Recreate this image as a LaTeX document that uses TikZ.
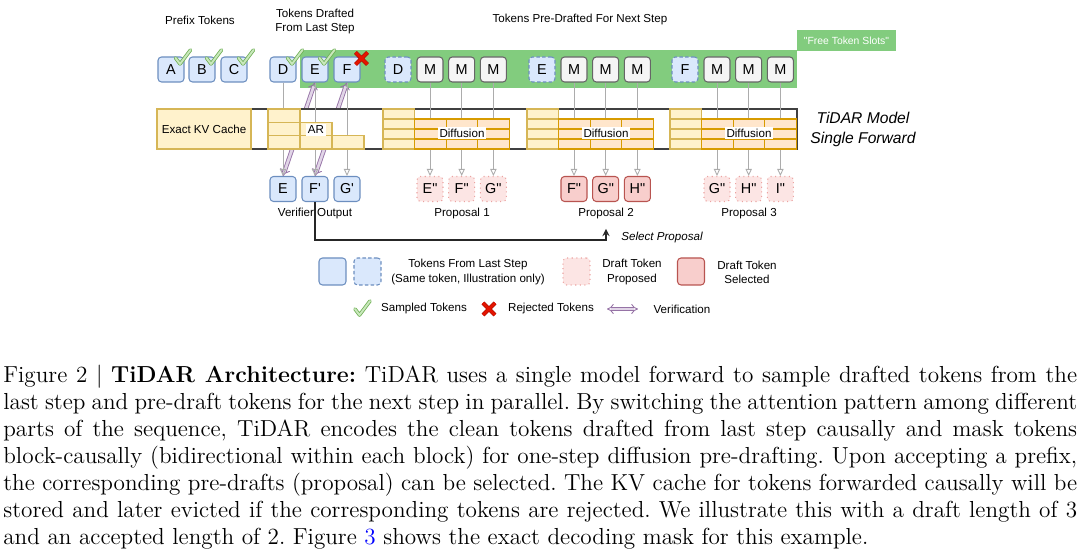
\documentclass[tikz,border=0pt]{standalone}
\usepackage{fontspec}
\usetikzlibrary{arrows, arrows.meta, positioning}
\newfontfamily\diafont{Liberation Sans}[Ligatures=TeXOff]
\definecolor{tokfill}{HTML}{DAE8FC}
\definecolor{tokline}{HTML}{6C8EBF}
\definecolor{maskfill}{HTML}{F5F5F5}
\definecolor{maskline}{HTML}{666666}
\definecolor{slotgreen}{HTML}{82CC7E}
\definecolor{kvfill}{HTML}{FFF2CC}
\definecolor{kvline}{HTML}{D6B656}
\definecolor{difffill}{HTML}{FFE6CC}
\definecolor{diffline}{HTML}{D79B00}
\definecolor{propfill}{HTML}{FCE5E4}
\definecolor{propline}{HTML}{EBA3A1}
\definecolor{selfill}{HTML}{F8CECC}
\definecolor{selline}{HTML}{B85450}
\definecolor{verline}{HTML}{9673A6}
\definecolor{verfill}{HTML}{E1D5E7}
\definecolor{chkline}{HTML}{6FAF55}
\definecolor{chkfill}{HTML}{C9E8BC}
\definecolor{rejred}{HTML}{E51400}
\tikzset{>=stealth}

\begin{document}
\begin{tikzpicture}[x=0.02cm, y=-0.02cm,
  lbl/.style={font=\diafont\fontsize{6.6}{8}\selectfont, align=center, inner sep=0pt},
  tok/.style={draw=tokline, fill=tokfill, line width=0.6pt, rounded corners=2pt, minimum width=0.52cm, minimum height=0.5cm, inner sep=0pt, font=\diafont\fontsize{8.2}{9}\selectfont},
  tokdash/.style={tok, dash pattern=on 2pt off 1.3pt},
  masktok/.style={tok, draw=maskline, fill=maskfill},
  proptok/.style={tok, draw=propline, fill=propfill, dotted},
  seltok/.style={tok, draw=selline, fill=selfill},
  kvcell/.style={draw=kvline, fill=kvfill, line width=0.6pt},
  diffcell/.style={draw=diffline, fill=difffill, line width=0.6pt},
  feed/.style={draw=gray!65, line width=0.5pt, -{Triangle[open, length=4pt, width=3.6pt]}},
  verify/.style={draw=verline, double=verfill, double distance=1.5pt, line width=0.5pt, {Implies}-{Implies}},
  chk/.pic={\draw[chkline, double=chkfill, double distance=1.1pt, line width=0.45pt, line join=round, line cap=round] (-7,0) -- (-2.5,6) -- (8,-8);},
  rej/.pic={\draw[rejred!75!black, double=rejred, double distance=1.6pt, line width=0.35pt] (-6,-6) -- (6,6) (-6,6) -- (6,-6);}
]
\useasboundingbox (0,0) rectangle (1080,553);

\fill[slotgreen] (300,50) rectangle (797,88);
\node[fill=slotgreen, text=white, minimum width=1.98cm, minimum height=0.42cm, inner sep=0pt, font=\diafont\fontsize{5.9}{7}\selectfont] (slots) at (846.5,40.5) {"Free Token Slots"};

\node[lbl] (hPre) at (200,20) {Prefix Tokens};
\node[lbl, font=\diafont\fontsize{6.6}{8.5}\selectfont] (hDraft) at (315,21.5) {Tokens Drafted\\From Last Step};
\node[lbl] (hNext) at (580,20) {Tokens Pre-Drafted For Next Step};

\foreach \n/\t/\x in {tA/A/171, tB/B/202, tC/C/234, tD/D/283, tE/E/315, tF/F/347}
  \node[tok] (\n) at (\x,69.5) {\t};
\foreach \n/\t/\x in {pD/D/398, pE/E/542, pF/F/685}
  \node[tokdash] (\n) at (\x,69.5) {\t};
\foreach \b/\x in {1/430, 2/574, 3/717}
  \foreach \i in {0,1,2}
    \node[masktok] (m\b\i) at ({\x+31.7*\i},69.5) {M};

\foreach \n in {tA, tB, tC, tD, tE}
  \pic at ([shift={(-2,1.5)}]\n.north east) {chk};
\pic at ([shift={(1,2)}]tF.north east) {rej};

\node[tok] (oE) at (283,189) {E};
\node[tok] (oF) at (315,189) {F'};
\node[tok] (oG) at (347,189) {G'};
\foreach \i/\t in {0/E", 1/F", 2/G"}
  \node[proptok] (q1\i) at ({430+31.7*\i},189) {\t};
\foreach \i/\t in {0/F", 1/G", 2/H"}
  \node[seltok] (q2\i) at ({574+31.7*\i},189) {\t};
\foreach \i/\t in {0/G", 1/H", 2/I"}
  \node[proptok] (q3\i) at ({717+31.7*\i},189) {\t};

\draw[verify] (oE.north) -- (tE.south);
\draw[verify] (oF.north) -- (tF.south);

% model band
\draw[black!75, line width=0.8pt, fill=white] (251,109) rectangle (797,149);
\foreach \a/\b in {tD/oE, tE/oF, tF/oG}
  \draw[feed] (\a.south) -- (\b.north);
\foreach \b in {1,2,3}
  \foreach \i in {0,1,2}
    \draw[feed] (m\b\i.south) -- (q\b\i.north);

\node[kvcell, minimum width=1.88cm, minimum height=0.8cm, inner sep=0pt, font=\diafont\fontsize{6.6}{8}\selectfont] (kv) at (204,129) {Exact KV Cache};

\foreach \c/\r in {0/0, 0/1, 0/2, 1/1, 1/2, 2/2}
  \draw[kvcell] ({268+32*\c},{109+13.33*\r}) rectangle ++(32,13.33);
\node[lbl, fill=white, inner sep=1pt] (ar) at (316,130) {AR};

\foreach \x [count=\k] in {383, 527, 670} {
  \foreach \r in {0,...,3}
    \draw[kvcell] (\x,{109+10*\r}) rectangle ++(31.5,10);
  \foreach \c in {0,1,2}
    \foreach \r in {0,1,2}
      \draw[diffcell] ({\x+31.5+31.7*\c},{119+10*\r}) rectangle ++(31.7,10);
  \node[lbl, fill=white, inner sep=1pt] (diff\k) at (\x+79,133) {Diffusion};
}

\node[lbl, font=\diafont\itshape\fontsize{8.9}{11.4}\selectfont] (model) at (863,129) {TiDAR Model\\Single Forward};

\node[lbl] (vOut) at (315,214) {Verifier Output};
\node[lbl] (prop1) at (462,214) {Proposal 1};
\node[lbl] (prop2) at (606,214) {Proposal 2};
\node[lbl] (prop3) at (749,214) {Proposal 3};

\coordinate (selTip) at (606,229);
\draw[->, black!85, line width=0.8pt] (oF.south) -- ++(0,38) -| (selTip);
\node[lbl, font=\diafont\itshape\fontsize{6.6}{8}\selectfont] (selLbl) at (662,238) {Select Proposal};

% legend
\node[tok, minimum width=0.54cm, minimum height=0.54cm] (lgTok) at (332.5,271.5) {};
\node[tokdash, minimum width=0.54cm, minimum height=0.54cm] (lgSame) at (367.5,271.5) {};
\node[lbl] (lgTokTxt) at (468,272) {Tokens From Last Step\\(Same token, Illustration only)};
\node[proptok, minimum width=0.54cm, minimum height=0.54cm] (lgProp) at (576.5,271.5) {};
\node[lbl] (lgPropTxt) at (632,272) {Draft Token\\Proposed};
\node[seltok, minimum width=0.54cm, minimum height=0.54cm] (lgSel) at (691,271.5) {};
\node[lbl] (lgSelTxt) at (747,272) {Draft Token\\Selected};

\pic at (362,309) {chk};
\node[lbl] (lgChk) at (424,309) {Sampled Tokens};
\pic at (489,309) {rej};
\node[lbl] (lgRej) at (551,309) {Rejected Tokens};
\coordinate (vA) at (607,309);
\coordinate (vB) at (638,309);
\draw[verify] (vA) -- (vB);
\node[lbl] (lgVer) at (682,309) {Verification};

\node[anchor=north west, text width=21.48cm, align=justify, inner sep=0pt, font=\fontsize{13.2}{15.36}\selectfont] (cap) at (3,365) {\frenchspacing\tolerance=9999\emergencystretch=0pt\noindent
Figure 2 | \textbf{TiDAR Architecture:} TiDAR uses a single model forward to sample drafted tokens from the\linebreak
last step and pre-draft tokens for the next step in parallel. By switching the attention pattern among different\linebreak
parts of the sequence, TiDAR encodes the clean tokens drafted from last step causally and mask tokens\linebreak
block-causally (bidirectional within each block) for one-step diffusion pre-drafting. Upon accepting a prefix,\linebreak
the corresponding pre-drafts (proposal) can be selected. The KV cache for tokens forwarded causally will be\linebreak
stored and later evicted if the corresponding tokens are rejected. We illustrate this with a draft length of 3\linebreak
and an accepted length of 2. Figure \textcolor{blue}{3} shows the exact decoding mask for this example.\par};
\end{tikzpicture}
\end{document}
